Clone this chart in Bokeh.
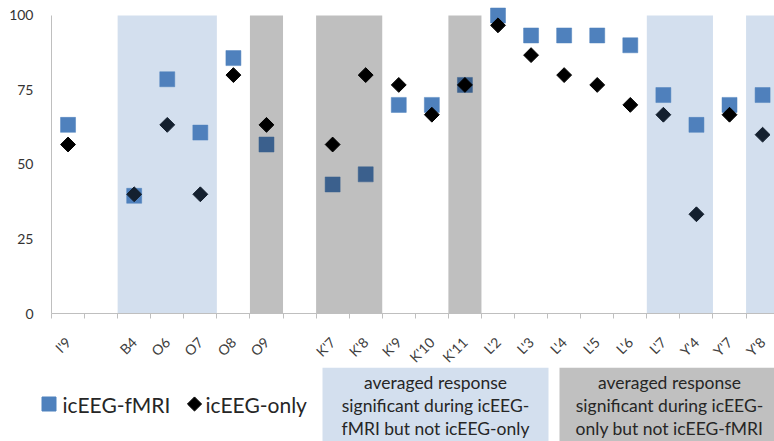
import math
from bokeh.plotting import figure
from bokeh.models import Range1d, FixedTicker
from bokeh.layouts import column
from bokeh.core.properties import value
from bokeh.embed import file_html
from bokeh.resources import INLINE

# ---- data ----
channels = ["I'9", "", "B4", "O6", "O7", "O8", "O9", "", "K'7", "K'8", "K'9",
            "K'10", "K'11", "L'2", "L'3", "L'4", "L'5", "L'6", "L'7", "Y'4", "Y'7", "Y'8"]
fmri = [63.3, None, 39.5, 78.6, 60.7, 85.7, 56.7, None, 43.3, 46.7, 70.0,
        70.0, 76.7, 100.0, 93.3, 93.3, 93.3, 90.0, 73.3, 63.3, 70.0, 73.3]
only = [56.7, None, 40.0, 63.3, 40.0, 80.0, 63.3, None, 56.7, 80.0, 76.7,
        66.7, 76.7, 96.7, 86.7, 80.0, 76.7, 70.0, 66.7, 33.3, 66.7, 60.0]
blue_bands = [("B4", "O7"), ("L'7", "Y'4"), ("Y'8", "Y'8")]
gray_bands = [("O9", "O9"), ("K'7", "K'8"), ("K'11", "K'11")]
y_ticks = [0, 25, 50, 75, 100]
box_blue_lines = ["averaged response", "significant during icEEG-", "fMRI but not icEEG-only"]
box_gray_lines = ["averaged response", "significant during icEEG-", "only but not icEEG-fMRI"]

FONT = "Lato"
BLUE = "#4F81BD"
n = len(channels)
idx = {c: i for i, c in enumerate(channels) if c}

p = figure(width=774, height=375, x_range=Range1d(0, 21.86), y_range=Range1d(0, 105.03),
           output_backend="svg", toolbar_location=None,
           min_border_left=51, min_border_right=0, min_border_top=0, min_border_bottom=62)
p.frame_align = False
p.outline_line_color = None
p.xgrid.visible = False
p.ygrid.visible = False
p.background_fill_color = "white"

xs_f = [i + 0.5 for i, v in enumerate(fmri) if v is not None]
ys_f = [v for v in fmri if v is not None]
xs_o = [i + 0.5 for i, v in enumerate(only) if v is not None]
ys_o = [v for v in only if v is not None]

p.scatter(xs_f, ys_f, marker="square", size=15, fill_color=BLUE, line_color=BLUE, line_width=0.5)
p.scatter(xs_o, ys_o, marker="square", size=10.5, angle=math.pi / 4,
          fill_color="black", line_color="black")

p.quad(left=[idx[a] for a, b in blue_bands], right=[idx[b] + 1 for a, b in blue_bands],
       bottom=0, top=100, fill_color=BLUE, fill_alpha=0.25, line_color=None)
p.quad(left=[idx[a] for a, b in gray_bands], right=[idx[b] + 1 for a, b in gray_bands],
       bottom=0, top=100, fill_color="black", fill_alpha=0.25, line_color=None)

# x axis
xa = p.xaxis[0]
centers = [i + 0.5 for i in range(n)]
xa.ticker = FixedTicker(ticks=centers, minor_ticks=list(range(n + 1)))
xa.major_label_overrides = {c: channels[i] for i, c in enumerate(centers)}
xa.major_label_orientation = math.pi / 4
xa.major_tick_line_color = None
xa.major_tick_out = 0
xa.major_tick_in = 0
xa.minor_tick_out = 5
xa.minor_tick_in = 0
xa.minor_tick_line_color = "#BFBFBF"
xa.axis_line_color = "#BFBFBF"
xa.major_label_text_font = FONT
xa.major_label_text_font_size = "14px"
xa.major_label_text_color = "#404040"
xa.major_label_standoff = 21

ya = p.yaxis[0]
ya.ticker = FixedTicker(ticks=y_ticks)
ya.bounds = (0, 100)
ya.major_tick_line_color = None
ya.major_tick_out = 0
ya.major_tick_in = 0
ya.minor_tick_line_color = None
ya.axis_line_color = "#BFBFBF"
ya.major_label_text_font = FONT
ya.major_label_text_font_size = "14px"
ya.major_label_text_color = "#333333"
ya.major_label_standoff = 18

# ---- bottom strip: legend and explanation boxes (window pixel coordinates) ----
q = figure(width=774, height=74, x_range=Range1d(0, 774), y_range=Range1d(441, 367),
           output_backend="svg", toolbar_location=None,
           x_axis_location=None, y_axis_location=None, min_border=0)
q.frame_align = False
q.margin = (-8, 0, 0, 0)
q.outline_line_color = None
q.xgrid.visible = False
q.ygrid.visible = False

q.quad(left=[322], right=[548], top=[367], bottom=[441], fill_color="#D3DFEE", line_color=None)
q.quad(left=[559], right=[780], top=[367], bottom=[441], fill_color="#C0C0C0", line_color=None)
q.text(x=[435] * 3, y=[382, 405, 428], text=box_blue_lines, text_align="center",
       text_baseline="middle", text_font=value(FONT), text_font_size="17.5px", text_color="#262626")
q.text(x=[669] * 3, y=[382, 405, 428], text=box_gray_lines, text_align="center",
       text_baseline="middle", text_font=value(FONT), text_font_size="17.5px", text_color="#262626")

q.scatter([48.5], [403.5], marker="square", size=14, fill_color=BLUE, line_color=BLUE)
q.scatter([194], [403.5], marker="square", size=10, angle=math.pi / 4,
          fill_color="black", line_color="black")
q.text(x=[62, 205], y=[403.5, 403.5], text=["icEEG-fMRI", "icEEG-only"], text_align="left",
       text_baseline="middle", text_font=value(FONT), text_font_size="21px", text_color="#262626")

layout = column(p, q, spacing=0)
open("out.html", "w").write(file_html(layout, INLINE))
